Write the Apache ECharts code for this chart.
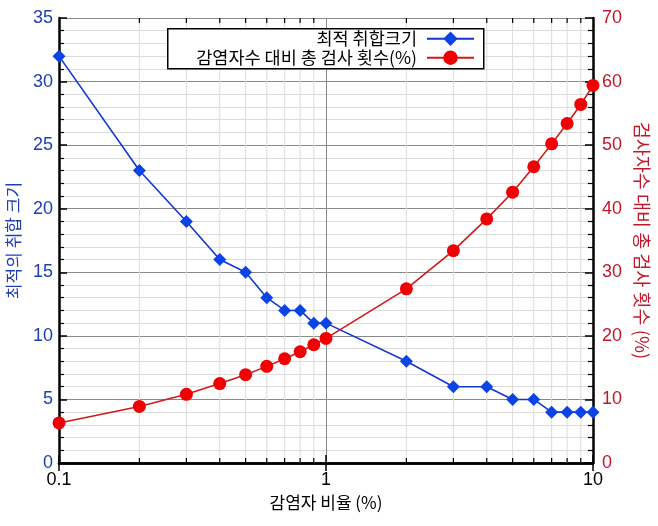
<!DOCTYPE html>
<html>
<head>
<meta charset="utf-8">
<script src="https://cdn.jsdelivr.net/npm/echarts@6/dist/echarts.min.js"></script>
<style>html,body{margin:0;padding:0;background:#fff;}#c{width:658px;height:526px;}</style>
</head>
<body>
<div id="c"></div>
<script>
// ---- data ----
const infectionRate = [0.1,0.2,0.3,0.4,0.5,0.6,0.7,0.8,0.9,1,2,3,4,5,6,7,8,9,10];
const optimalPoolSize = [32,23,19,16,15,13,12,12,11,11,8,6,6,5,5,4,4,4,4];
const testsPercent = [6.3,8.9,10.8,12.5,13.9,15.2,16.4,17.5,18.6,19.6,27.4,33.4,38.4,42.6,46.6,50.2,53.4,56.4,59.4];
const minorX = [0.2,0.3,0.4,0.5,0.6,0.7,0.8,0.9,2,3,4,5,6,7,8,9];
const seriesNames = ['최적 취합크기', '감염자수 대비 총 검사 횟수(%)'];
const xName = '감염자 비율 (%)';
const yLeftName = '최적의 취합 크기';
const yRightName = '검사자수 대비 총 검사 횟수 (%)';

const FONT = "'Liberation Sans', 'Noto Sans CJK KR', sans-serif";
const KFONT = "'Noto Sans CJK KR', sans-serif";
const BLUE_TXT = '#1f3fb0';
const RED_TXT = '#c0182a';

const chart = echarts.init(document.getElementById('c'), null, {renderer: 'canvas'});
const yMaxLeft = 35;

chart.setOption({
  animation: false,
  backgroundColor: '#fff',
  grid: {left: 59, right: 65, top: 18, bottom: 63, containLabel: false, outerBoundsMode: 'none'},
  graphic: [{
    type: 'rect', left: 167, top: 28, z: 3,
    shape: {width: 316, height: 40},
    style: {fill: '#fff', stroke: '#000', lineWidth: 1.5}
  }],
  legend: [
    {data: [seriesNames[0]], orient: 'vertical', align: 'right', right: 183, top: 30, padding: 0, z: 10,
     itemWidth: 47, itemHeight: 18, selectedMode: false,
     textStyle: {fontSize: 17.5, color: '#000', fontFamily: KFONT, padding: [0, 5, 0, 0]}},
    {data: [seriesNames[1]], orient: 'vertical', align: 'right', right: 183, top: 49, padding: 0, z: 10,
     itemWidth: 47, itemHeight: 18, selectedMode: false,
     textStyle: {fontSize: 17.5, color: '#000', fontFamily: KFONT, padding: [0, 5, 0, 0]}}
  ],
  xAxis: [
    {type: 'log', logBase: 10, min: 0.1, max: 10, position: 'bottom',
     axisLine: {show: true, lineStyle: {color: '#000', width: 2.5}},
     axisTick: {show: true, inside: true, length: 8, lineStyle: {color: '#000', width: 1.5}},
     axisLabel: {fontSize: 18, color: '#000', fontFamily: FONT, margin: 8},
     splitLine: {show: true, lineStyle: {color: '#8a8a8a', width: 1}},
     name: xName, nameLocation: 'middle', nameGap: 30,
     nameTextStyle: {fontSize: 17, color: '#000', fontFamily: KFONT}},
    {type: 'log', logBase: 10, min: 0.1, max: 10, position: 'top',
     axisLine: {show: true, lineStyle: {color: '#000', width: 2.5}},
     axisTick: {show: true, inside: true, length: 8, lineStyle: {color: '#000', width: 1.5}},
     axisLabel: {show: false}, splitLine: {show: false}}
  ],
  yAxis: [
    {type: 'value', min: 0, max: yMaxLeft, interval: 5, position: 'left',
     axisLine: {show: true, lineStyle: {color: '#000', width: 2.5}},
     axisTick: {show: true, inside: true, length: 8, lineStyle: {color: '#000', width: 1.5}},
     minorTick: {show: true, splitNumber: 5, length: 5, lineStyle: {color: '#000', width: 1.2}},
     axisLabel: {fontSize: 18, color: BLUE_TXT, fontFamily: FONT, margin: 6},
     splitLine: {show: true, lineStyle: {color: '#8a8a8a', width: 1}},
     minorSplitLine: {show: true, lineStyle: {color: '#dcdcdc', width: 1}},
     name: yLeftName, nameLocation: 'middle', nameGap: 34,
     nameTextStyle: {fontSize: 17, color: BLUE_TXT, fontFamily: KFONT}},
    {type: 'value', min: 0, max: 70, interval: 10, position: 'right',
     axisLine: {show: true, lineStyle: {color: '#000', width: 2.5}},
     axisTick: {show: true, inside: true, length: 8, lineStyle: {color: '#000', width: 1.5}},
     minorTick: {show: true, splitNumber: 5, length: 5, lineStyle: {color: '#000', width: 1.2}},
     axisLabel: {fontSize: 18, color: RED_TXT, fontFamily: FONT, margin: 9},
     splitLine: {show: false},
     name: yRightName, nameLocation: 'middle', nameGap: 38, nameRotate: -90,
     nameTextStyle: {fontSize: 18.5, color: RED_TXT, fontFamily: KFONT}}
  ],
  series: [
    {type: 'custom', xAxisIndex: 0, yAxisIndex: 0, z: 1, silent: true,
     data: minorX.map(v => [v]),
     encode: {x: 0},
     renderItem: function (params, api) {
       const v = api.value(0);
       const b = api.coord([v, 0]);
       const t = api.coord([v, yMaxLeft]);
       return {type: 'group', children: [
         {type: 'line', shape: {x1: b[0], y1: b[1], x2: t[0], y2: t[1]}, style: {stroke: '#dcdcdc', lineWidth: 1}},
         {type: 'line', shape: {x1: b[0], y1: b[1], x2: b[0], y2: b[1] - 5}, style: {stroke: '#000', lineWidth: 1.2}, z2: 5},
         {type: 'line', shape: {x1: t[0], y1: t[1], x2: t[0], y2: t[1] + 5}, style: {stroke: '#000', lineWidth: 1.2}, z2: 5}
       ]};
     }},
    {name: seriesNames[0], type: 'line', xAxisIndex: 0, yAxisIndex: 0, z: 4,
     data: infectionRate.map((x, i) => [x, optimalPoolSize[i]]),
     symbol: 'diamond', symbolSize: 13,
     itemStyle: {color: '#0a44e6'},
     lineStyle: {color: '#1238d0', width: 1.6}},
    {name: seriesNames[1], type: 'line', xAxisIndex: 0, yAxisIndex: 1, z: 4,
     data: infectionRate.map((x, i) => [x, testsPercent[i]]),
     symbol: 'circle', symbolSize: 13,
     itemStyle: {color: '#f00000'},
     lineStyle: {color: '#d41818', width: 1.6}}
  ]
});
</script>
</body>
</html>
